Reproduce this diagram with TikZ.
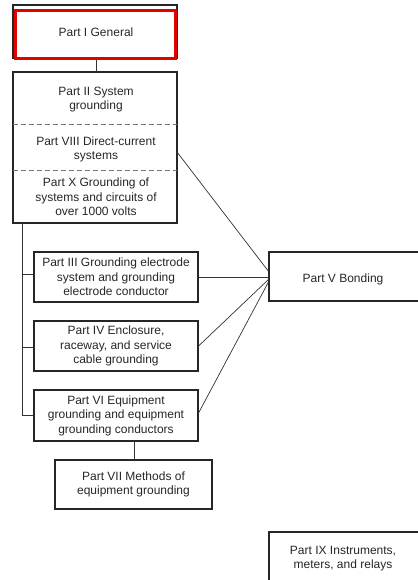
\documentclass[tikz,border=0pt]{standalone}
\usepackage{fontspec}
\setmainfont{Liberation Sans}
\begin{document}
\begin{tikzpicture}[x=1pt,y=-1pt,
  box/.style={draw=black!85,line width=1.1pt},
  conn/.style={draw=black!80,line width=0.7pt},
  txt/.style={font=\fontsize{12}{14.5}\selectfont,align=center,text=black!85,inner sep=0pt},
  dsh/.style={draw=black!55,line width=0.8pt,dash pattern=on 5pt off 3pt}]
\useasboundingbox (0,0) rectangle (417,580);
% Part I
\draw[box] (13,5) rectangle (177,58);
\draw[draw=red!90!black,line width=3pt] (15,11) rectangle (175,59);
\node[txt] (p1) at (96,32) {Part I General};
\coordinate (p1b) at (96,60);
% Part II / VIII / X
\draw[box] (13,72) rectangle (177,223);
\coordinate (p2t) at (96,72);
\draw[dsh] (13,124) -- (177,124);
\draw[dsh] (13,170) -- (177,170);
\node[txt] (p2) at (96,99.5) {Part II System\\grounding};
\node[txt] (p8) at (96,149.5) {Part VIII Direct-current\\systems};
\node[txt] (p10) at (96,197) {Part X Grounding of\\systems and circuits of\\over 1000 volts};
\coordinate (p2r) at (177,152);
\coordinate (p2b) at (22,223);
% Part III, IV, VI
\node[box,minimum width=164pt,minimum height=50pt] (p3) at (116,277) {};
\node[txt] at (p3) {Part III Grounding electrode\\system and grounding\\electrode conductor};
\node[box,minimum width=164pt,minimum height=50pt] (p4) at (116,346) {};
\node[txt] at (p4) {Part IV Enclosure,\\raceway, and service\\cable grounding};
\node[box,minimum width=164pt,minimum height=51pt] (p6) at (116,415.5) {};
\node[txt] at (p6) {Part VI Equipment\\grounding and equipment\\grounding conductors};
\node[box,minimum width=157pt,minimum height=49pt] (p7) at (133.5,484.5) {};
\node[txt] at (p7) {Part VII Methods of\\equipment grounding};
% Part V
\draw[box] (269,252) rectangle (420,301);
\node[txt] (p5) at (343,279) {Part V Bonding};
\coordinate (p5l) at (269,274);
% Part IX
\draw[box] (269,532) rectangle (420,585);
\node[txt] (p9) at (343,558.5) {Part IX Instruments,\\meters, and relays};
% connectors
\draw[conn] (p1b) -- (p2t);
\coordinate (t3) at (22,274);
\coordinate (t4) at (22,347);
\coordinate (t6) at (22,415);
\draw[conn] (p2b) -- (t6) -- (p6.west |- t6);
\draw[conn] (t3) -- (p3.west |- t3);
\draw[conn] (t4) -- (p4.west |- t4);
\draw[conn] (p6.south -| 134,0) -- (p7.north -| 134,0);
\draw[conn] (p2r) -- (269,272);
\draw[conn] (p3.east |- 0,277) -- (269,277);
\draw[conn] (p4.east) -- (269,279);
\draw[conn] (p6.east |- 0,413) -- (269,281);
\end{tikzpicture}
\end{document}
